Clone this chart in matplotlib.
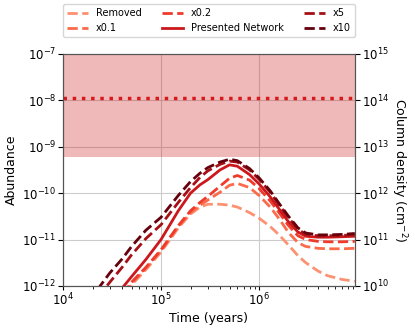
import numpy as np
import matplotlib
matplotlib.use("Agg")
import matplotlib.pyplot as plt

# Time grid (years)
time_years = [1.5e4, 2e4, 3e4, 4e4, 5e4, 7e4, 1e5, 1.5e5, 2e5, 2.5e5, 3e5, 4e5, 5e5,
              6e5, 8e5, 1e6, 1.3e6, 1.6e6, 2e6, 2.5e6, 3e6, 4e6, 5e6, 7e6, 9.5e6]

# log10 abundance of each model
log_removed = [-13.5, -13.2, -12.65, -12.28, -11.98, -11.65, -11.27, -10.75, -10.45, -10.3,
               -10.24, -10.24, -10.26, -10.3, -10.42, -10.54, -10.72, -10.9, -11.12, -11.35,
               -11.5, -11.68, -11.78, -11.86, -11.9]
log_x01 = [-13.45, -13.15, -12.6, -12.25, -11.95, -11.62, -11.24, -10.72, -10.42, -10.26,
           -10.15, -9.98, -9.83, -9.79, -9.88, -10.05, -10.3, -10.55, -10.85, -11.07,
           -11.15, -11.19, -11.2, -11.2, -11.19]
log_x02 = [-13.4, -13.1, -12.55, -12.2, -11.92, -11.6, -11.22, -10.7, -10.38, -10.2,
           -10.07, -9.85, -9.68, -9.62, -9.72, -9.9, -10.17, -10.42, -10.7, -10.92,
           -11.0, -11.04, -11.05, -11.05, -11.04]
log_presented = [-13.1, -12.8, -12.35, -12.05, -11.8, -11.43, -11.0, -10.38, -10.0, -9.82,
                 -9.71, -9.5, -9.39, -9.42, -9.6, -9.8, -10.08, -10.34, -10.62, -10.84,
                 -10.93, -10.95, -10.95, -10.94, -10.93]
log_x5 = [-12.75, -12.4, -11.92, -11.6, -11.33, -10.98, -10.68, -10.2, -9.88, -9.66,
          -9.52, -9.38, -9.31, -9.33, -9.5, -9.7, -9.98, -10.25, -10.53, -10.78,
          -10.89, -10.92, -10.92, -10.91, -10.9]
log_x10 = [-12.6, -12.22, -11.72, -11.42, -11.15, -10.8, -10.52, -10.05, -9.75, -9.57,
           -9.45, -9.33, -9.27, -9.3, -9.47, -9.67, -9.95, -10.22, -10.5, -10.75,
           -10.86, -10.9, -10.9, -10.89, -10.87]

labels = ["Removed", "x0.1", "x0.2", "Presented Network", "x5", "x10"]
colors = ["#fc9272", "#fb6a4a", "#ef3b2c", "#cb181d", "#a50f15", "#67000d"]
styles = ["--", "--", "--", "-", "--", "--"]

# Observed range and observed value
obs_low, obs_high = 6e-10, 1e-7
obs_value = 1.1e-8
col_conv = 1e22  # column density / abundance

plt.rcParams['font.family'] = ['DejaVu Sans']
fig = plt.figure(figsize=(4.15, 3.29), dpi=100)
ax = fig.add_axes([0.152, 0.131, 0.703, 0.705])

t = np.array(time_years)
series = [log_removed, log_x01, log_x02, log_presented, log_x5, log_x10]
handles = []
for s, lab, c, ls in zip(series, labels, colors, styles):
    h, = ax.plot(t, 10 ** np.array(s), ls, color=c, lw=2, label=lab, zorder=3)
    handles.append(h)

ax.axhspan(obs_low, obs_high, color="#cb181d", alpha=0.3, lw=0, zorder=1)
ax.axhline(obs_value, color="#d7191c", ls=":", lw=2.5, zorder=2)

ax.set_xscale("log")
ax.set_yscale("log")
ax.set_xlim(1e4, 9.5e6)
ax.set_ylim(1e-12, 1e-7)
ax.yaxis.set_minor_locator(matplotlib.ticker.NullLocator())
ax.grid(True, which="major", color="#cccccc", lw=0.8, zorder=0)
ax.set_axisbelow(True)
ax.set_xlabel("Time (years)", fontsize=9, labelpad=2)
ax.set_ylabel("Abundance", fontsize=9, labelpad=3)
ax.tick_params(labelsize=8.5, pad=1.5)
ax.tick_params(axis="x", which="both", length=3)
ax.tick_params(axis="x", which="minor", length=2)
for sp in ax.spines.values():
    sp.set_color("#555555")

ax2 = ax.twinx()
ax2.set_yscale("log")
ax2.set_ylim(1e-12 * col_conv, 1e-7 * col_conv)
ax2.yaxis.set_minor_locator(matplotlib.ticker.NullLocator())
ax2.set_ylabel("Column density (cm$^{-2}$)", fontsize=9, rotation=270, labelpad=14)
ax2.tick_params(labelsize=8.5, pad=1.5)
for sp in ax2.spines.values():
    sp.set_color("#555555")

ax.legend(handles=handles, loc="lower left", bbox_to_anchor=(0, 1.073, 1, 0.1),
          mode="expand", ncol=3, fontsize=7, frameon=True, borderaxespad=0,
          handlelength=2.2)

fig.savefig("out.png", dpi=100)
